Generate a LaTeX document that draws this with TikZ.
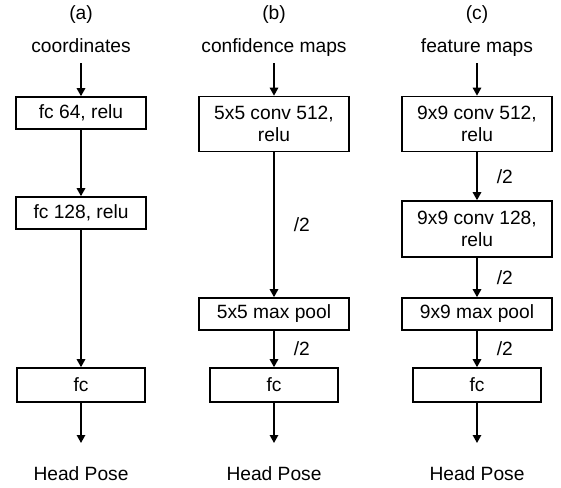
\documentclass[tikz,border=0pt]{standalone}
\usepackage{fontspec}
\setmainfont{Liberation Sans}
\usetikzlibrary{arrows.meta,positioning}

\begin{document}
\begin{tikzpicture}[x=0.5pt,y=-0.5pt,
  font=\fontsize{9.6}{11}\selectfont,
  layer/.style={draw,line width=0.8pt,inner sep=0pt,align=center,
    minimum width=75pt,minimum height=16pt},
  feed/.style={inner sep=0pt,minimum height=16pt,text height=7pt,text depth=2pt},
  flow/.style={line width=0.8pt,-{Triangle[length=4pt,width=4.2pt]}},
  half/.style={right,inner sep=0pt,xshift=9.5pt}]
  \useasboundingbox (0,0) rectangle (561,487);
  % (a) from coordinates
  \begin{scope}[xshift=40.5pt]
    \node (tag_a) at (0,15) {(a)};
    \node[feed] (in_a) at (0,47) {coordinates};
    \node[layer,minimum width=65pt] (fc64_a) at (0,113) {fc 64, relu};
    \node[layer,minimum width=65pt] (fc128_a) at (0,213) {fc 128, relu};
    \node[layer,minimum width=64pt,minimum height=17pt] (fc_a) at (0,385) {fc};
    \coordinate (end_a) at (0,443);
    \node (pose_a) at (0,474) {Head Pose};
    \draw[flow] (in_a) -- (fc64_a);
    \draw[flow] (fc64_a) -- (fc128_a);
    \draw[flow] (fc128_a) -- (fc_a);
    \draw[flow] (fc_a) -- (end_a);
  \end{scope}
  % (b) from confidence maps
  \begin{scope}[xshift=137pt]
    \node (tag_b) at (0,15) {(b)};
    \node[feed] (in_b) at (0,47) {confidence maps};
    \node[layer,minimum height=27.5pt] (conv_b) at (0,124) {5x5 conv 512,\\relu};
    \node[layer] (pool_b) at (0,314) {5x5 max pool};
    \node[layer,minimum width=64pt,minimum height=17pt] (fc_b) at (0,385) {fc};
    \coordinate (end_b) at (0,443);
    \node (pose_b) at (0,474) {Head Pose};
    \draw[flow] (in_b) -- (conv_b);
    \draw[flow] (conv_b) -- (pool_b) node[half,midway] {/2};
    \draw[flow] (pool_b) -- (fc_b) node[half,midway] {/2};
    \draw[flow] (fc_b) -- (end_b);
  \end{scope}
  % (c) from feature maps
  \begin{scope}[xshift=238.5pt]
    \node (tag_c) at (0,15) {(c)};
    \node[feed] (in_c) at (0,47) {feature maps};
    \node[layer,minimum height=27.5pt] (conv512_c) at (0,124) {9x9 conv 512,\\relu};
    \node[layer,minimum height=28pt] (conv128_c) at (0,229) {9x9 conv 128,\\relu};
    \node[layer] (pool_c) at (0,314) {9x9 max pool};
    \node[layer,minimum width=64pt,minimum height=17pt] (fc_c) at (0,385) {fc};
    \coordinate (end_c) at (0,443);
    \node (pose_c) at (0,474) {Head Pose};
    \draw[flow] (in_c) -- (conv512_c);
    \draw[flow] (conv512_c) -- (conv128_c) node[half,midway] {/2};
    \draw[flow] (conv128_c) -- (pool_c) node[half,midway] {/2};
    \draw[flow] (pool_c) -- (fc_c) node[half,midway] {/2};
    \draw[flow] (fc_c) -- (end_c);
  \end{scope}
\end{tikzpicture}
\end{document}
